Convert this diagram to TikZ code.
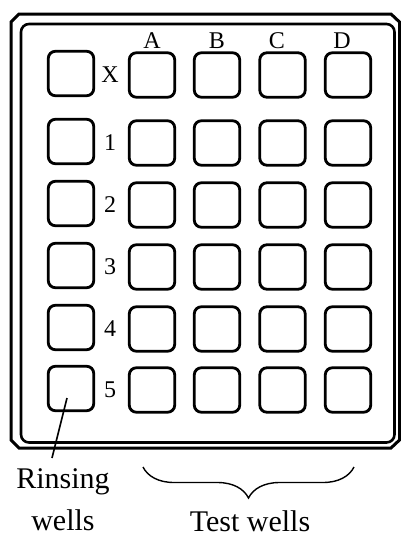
\documentclass[tikz,border=0pt]{standalone}
\usepackage{fontspec}
\setmainfont{Liberation Serif}
\usetikzlibrary{decorations.pathreplacing}

\begin{document}
\begin{tikzpicture}[x=0.5pt,y=-0.5pt,
  well/.style={draw,line width=1.4pt,rounded corners=3.5pt,minimum width=22.7pt,minimum height=22.2pt,inner sep=0pt},
  gridlbl/.style={font=\fontsize{12}{14}\selectfont,inner sep=0pt},
  biglbl/.style={font=\fontsize{15}{21}\selectfont,inner sep=0pt,align=center}]
\useasboundingbox (0,0) rectangle (401,536);
% plate outline
\draw[line width=1.5pt] (11,22) -- (19,14) -- (391,14) -- (399.5,22) -- (399.5,440) -- (391,448) -- (19,448) -- (11,440) -- cycle;
\draw[line width=1.3pt,rounded corners=4pt] (21,24) rectangle (394.5,442.5);
% wells and labels
\foreach \col/\x in {A/152,B/217,C/277,D/342}
  \node[gridlbl] (c\col) at (\x,41) {\col};
\foreach \row/\y in {X/75,1/143,2/205,3/267,4/329,5/390}{
  \node[well] (r\row) at (71,\y-1.5) {};
  \node[gridlbl] (l\row) at (110,\y) {\row};
  \foreach \col/\x in {A/152,B/217,C/282.5,D/348}
    \node[well] (\col\row) at (\x,\y) {};
}
% rinsing wells
\coordinate (rtip) at (67,398);
\coordinate (rend) at (52,458);
\draw[line width=0.8pt] (rtip) -- (rend);
\node[biglbl] (rinse) at (63,499.5) {Rinsing\\wells};
% test wells
\coordinate (bl) at (143,467);
\coordinate (br) at (354,467);
\draw[line width=0.7pt,decorate,decoration={brace,mirror,amplitude=15.5pt}] (bl) -- (br);
\node[biglbl] (test) at (250,521) {Test wells};
\end{tikzpicture}
\end{document}
